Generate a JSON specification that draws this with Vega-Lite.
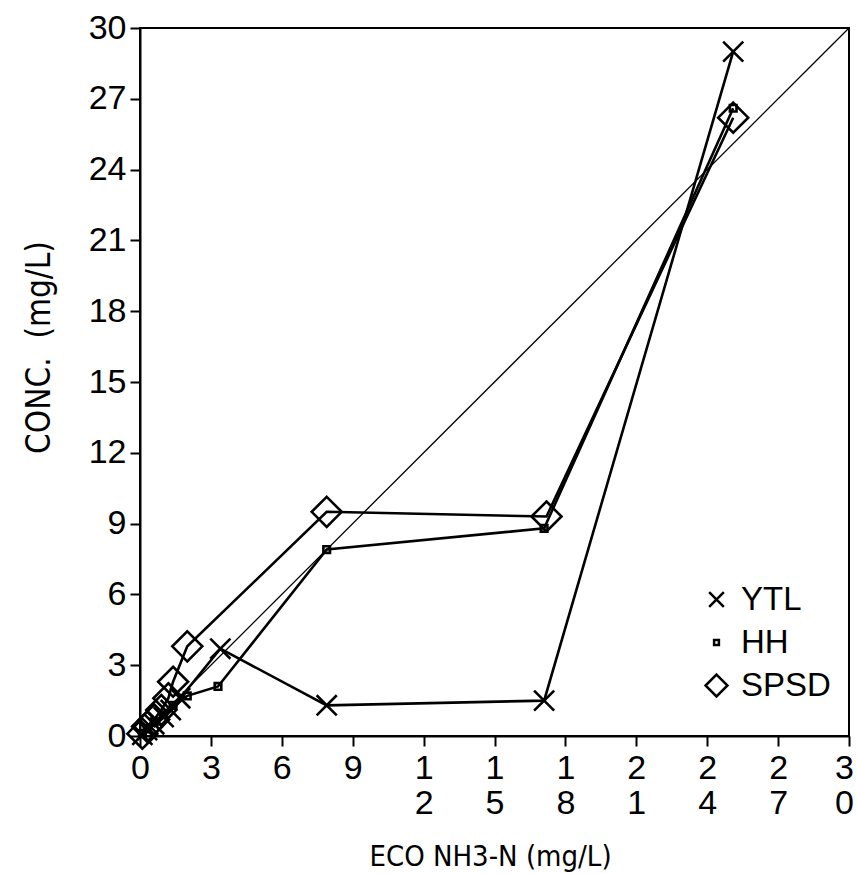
{
  "$schema": "https://vega.github.io/schema/vega-lite/v6.json",
  "width": 709,
  "height": 708,
  "autosize": {"type": "none"},
  "padding": {"left": 140, "top": 28, "right": 7, "bottom": 138},
  "background": "white",
  "config": {
    "view": {"stroke": "black", "strokeWidth": 2},
    "font": "Liberation Sans",
    "axis": {
      "grid": false,
      "domainColor": "black",
      "domainWidth": 2,
      "tickColor": "black",
      "tickWidth": 2,
      "tickSize": 10,
      "labelFont": "Liberation Sans",
      "labelFontSize": 34,
      "labelColor": "black",
      "labelOverlap": false,
      "labelFlush": false,
      "titleFont": "Liberation Sans Narrow, DejaVu Sans Condensed, Liberation Sans",
      "titleFontSize": 33,
      "titleFontWeight": "normal",
      "titleColor": "black"
    },
    "legend": {
      "labelFont": "Liberation Sans",
      "labelFontSize": 33,
      "labelColor": "black"
    }
  },
  "datasets": {
    "diag": [{"x": 0, "y": 0}, {"x": 30, "y": 30}],
    "obs": [
      {"series": "YTL", "seq": 1, "x": 0.1, "y": 0.05},
      {"series": "YTL", "seq": 2, "x": 0.3, "y": 0.25},
      {"series": "YTL", "seq": 3, "x": 0.6, "y": 0.5},
      {"series": "YTL", "seq": 4, "x": 1.0, "y": 0.8},
      {"series": "YTL", "seq": 5, "x": 1.3, "y": 1.1},
      {"series": "YTL", "seq": 6, "x": 1.7, "y": 1.6},
      {"series": "YTL", "seq": 7, "x": 3.4, "y": 3.7},
      {"series": "YTL", "seq": 8, "x": 7.9, "y": 1.3},
      {"series": "YTL", "seq": 9, "x": 17.1, "y": 1.5},
      {"series": "YTL", "seq": 10, "x": 25.1, "y": 29.0},
      {"series": "HH", "seq": 1, "x": 0.1, "y": 0.1},
      {"series": "HH", "seq": 2, "x": 0.3, "y": 0.3},
      {"series": "HH", "seq": 3, "x": 0.6, "y": 0.6},
      {"series": "HH", "seq": 4, "x": 1.0, "y": 0.9},
      {"series": "HH", "seq": 5, "x": 1.4, "y": 1.3},
      {"series": "HH", "seq": 6, "x": 2.0, "y": 1.7},
      {"series": "HH", "seq": 7, "x": 3.3, "y": 2.1},
      {"series": "HH", "seq": 8, "x": 7.9, "y": 7.9},
      {"series": "HH", "seq": 9, "x": 17.1, "y": 8.8},
      {"series": "HH", "seq": 10, "x": 25.1, "y": 26.6},
      {"series": "SPSD", "seq": 1, "x": 0.1, "y": 0.1},
      {"series": "SPSD", "seq": 2, "x": 0.3, "y": 0.4},
      {"series": "SPSD", "seq": 3, "x": 0.6, "y": 0.7},
      {"series": "SPSD", "seq": 4, "x": 0.9, "y": 1.1},
      {"series": "SPSD", "seq": 5, "x": 1.2, "y": 1.6},
      {"series": "SPSD", "seq": 6, "x": 1.4, "y": 2.3},
      {"series": "SPSD", "seq": 7, "x": 2.0, "y": 3.8},
      {"series": "SPSD", "seq": 8, "x": 7.9, "y": 9.5},
      {"series": "SPSD", "seq": 9, "x": 17.2, "y": 9.3},
      {"series": "SPSD", "seq": 10, "x": 25.1, "y": 26.2}
    ]
  },
  "layer": [
    {
      "data": {"name": "diag"},
      "mark": {"type": "line", "color": "black", "strokeWidth": 1.3},
      "encoding": {
        "x": {"field": "x", "type": "quantitative", "scale": {"domain": [0, 30], "nice": false}},
        "y": {"field": "y", "type": "quantitative", "scale": {"domain": [0, 30], "nice": false}}
      }
    },
    {
      "data": {"name": "obs"},
      "mark": {"type": "line", "color": "black", "strokeWidth": 2.6},
      "encoding": {
        "x": {"field": "x", "type": "quantitative"},
        "y": {"field": "y", "type": "quantitative"},
        "detail": {"field": "series"},
        "order": {"field": "seq", "type": "quantitative"}
      }
    },
    {
      "data": {"name": "obs"},
      "mark": {"type": "point", "filled": false, "color": "black", "strokeWidth": 2.6, "size": 900, "opacity": 1},
      "encoding": {
        "x": {
          "field": "x", "type": "quantitative",
          "scale": {"domain": [0, 30], "nice": false},
          "axis": {
            "values": [0, 3, 6, 9, 12, 15, 18, 21, 24, 27, 30],
            "title": "ECO NH3-N (mg/L)",
            "titleFontSize": 29,
            "labelExpr": "split(datum.label, '')",
            "labelLineHeight": 35,
            "labelBaseline": "top",
            "labelPadding": 5,
            "labelOffset": {"condition": {"test": "datum.value == 30", "value": -5}, "value": 0},
            "titleX": 350,
            "titleY": 120,
            "titleAlign": "center",
            "titleBaseline": "middle"
          }
        },
        "y": {
          "field": "y", "type": "quantitative",
          "scale": {"domain": [0, 30], "nice": false},
          "axis": {
            "values": [0, 3, 6, 9, 12, 15, 18, 21, 24, 27, 30],
            "title": "CONC.\u00a0\u00a0(mg/L)",
            "labelPadding": 4,
            "titleX": -101,
            "titleY": 319,
            "titleAlign": "center",
            "titleBaseline": "middle",
            "titleAngle": -90
          }
        },
        "shape": {
          "field": "series", "type": "nominal",
          "scale": {
            "domain": ["YTL", "HH", "SPSD"],
            "range": [
              "M-0.67,-0.67L0.67,0.67M-0.67,0.67L0.67,-0.67",
              "M-0.22,-0.22L0.22,-0.22L0.22,0.22L-0.22,0.22Z",
              "M0,-1L1,0L0,1L-1,0Z"
            ]
          },
          "legend": {
            "title": null,
            "orient": "none",
            "legendX": 560,
            "legendY": 555,
            "padding": 0,
            "symbolSize": 480,
            "symbolStrokeWidth": 2.5,
            "symbolStrokeColor": "black",
            "symbolFillColor": "transparent",
            "rowPadding": 9,
            "labelOffset": 8
          }
        }
      }
    }
  ]
}
